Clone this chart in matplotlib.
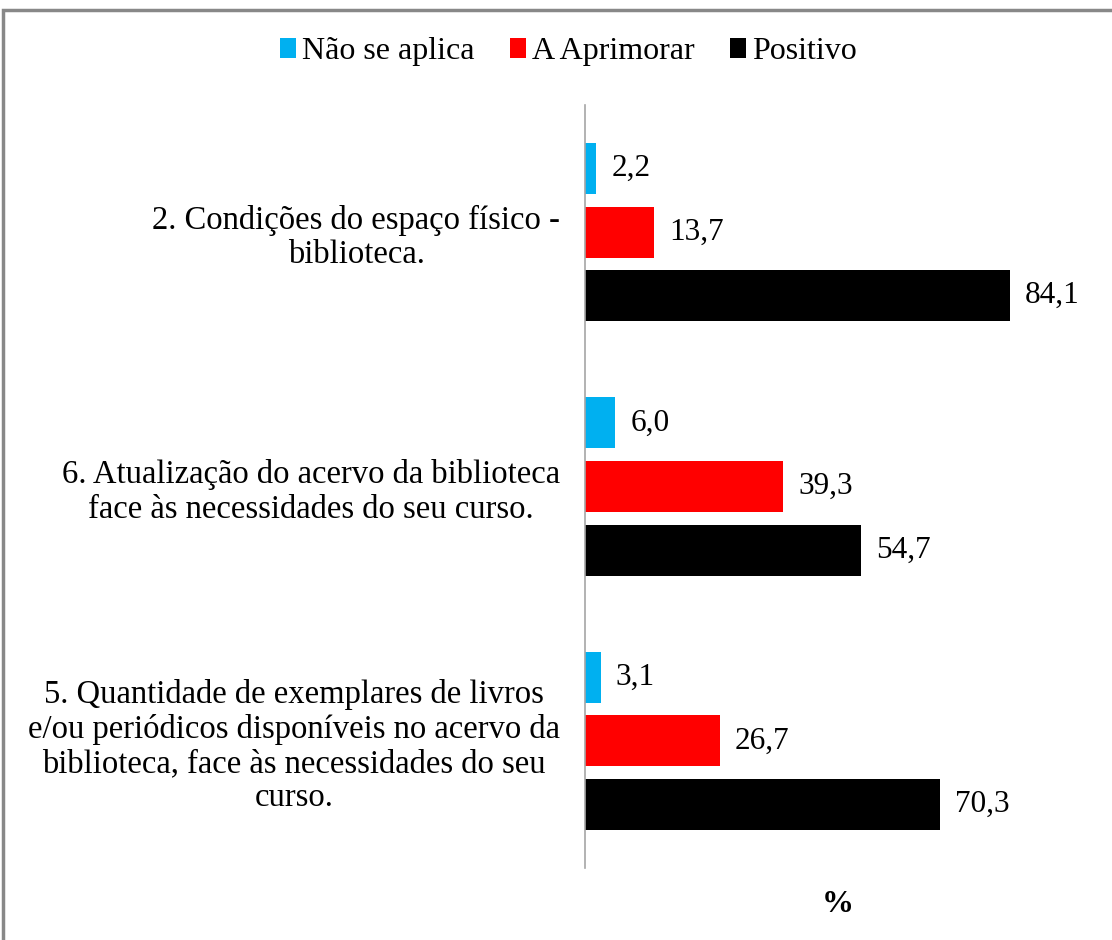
import numpy as np
import matplotlib.pyplot as plt
from matplotlib.patches import Rectangle

plt.rcParams['font.family'] = ['Liberation Serif', 'DejaVu Serif']

categorias = [
    "5. Quantidade de exemplares de livros\ne/ou periódicos disponíveis no acervo da\nbiblioteca, face às necessidades do seu\ncurso.",
    "6. Atualização do acervo da biblioteca\nface às necessidades do seu curso.",
    "2. Condições do espaço físico -\nbiblioteca.",
]
series = ["Não se aplica", "A Aprimorar", "Positivo"]
nao_se_aplica = [3.1, 6.0, 2.2]
a_aprimorar = [26.7, 39.3, 13.7]
positivo = [70.3, 54.7, 84.1]
cores = ['#00B0F0', '#FF0000', '#000000']

fig = plt.figure(figsize=(11.12, 9.4), dpi=100)
ax = fig.add_axes([585/1112, 72/940, 505/1112, 763/940])

y = np.arange(len(categorias))
altura = 0.2
deslocamentos = [0.25, 0.0, -0.25]
valores = [nao_se_aplica, a_aprimorar, positivo]

for nome, vals, cor, d in zip(series, valores, cores, deslocamentos):
    barras = ax.barh(y + d, vals, height=altura, color=cor, label=nome)
    for b, v in zip(barras, vals):
        ax.annotate(f"{v:.1f}".replace('.', ','),
                    xy=(b.get_width(), b.get_y() + b.get_height() / 2),
                    xytext=(11, 0), textcoords='offset points',
                    ha='left', va='center', fontsize=22.5)

ax.set_xlim(0, 100)
ax.set_ylim(-0.5, 2.5)
ax.set_yticks(y, categorias)
ax.tick_params(axis='y', length=0, pad=18, labelsize=23.5)
for t in ax.get_yticklabels():
    t.set_multialignment('center')
    t.set_linespacing(1.16)
ax.set_xticks([])
for s in ['top', 'right', 'bottom']:
    ax.spines[s].set_visible(False)
ax.spines['left'].set_color('#A6A6A6')
ax.spines['left'].set_linewidth(1.2)

ax.set_xlabel('%', fontsize=23, fontweight='bold', labelpad=16)

fig.legend(loc='center', bbox_to_anchor=(0.511, 0.945), ncol=3,
           frameon=False, fontsize=23, handlelength=0.5, handleheight=0.55,
           handletextpad=0.2, columnspacing=1.1, borderpad=0)

fig.patches.append(Rectangle((3/1112, -0.1), 1.2, 1.1 - 10/940, transform=fig.transFigure,
                             fill=False, edgecolor='#888888', linewidth=2.5))

fig.savefig('out.png', dpi=100)
